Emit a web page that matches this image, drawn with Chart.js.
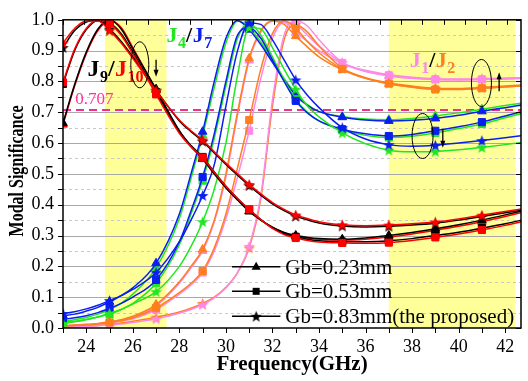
<!DOCTYPE html>
<html>
<head>
<meta charset="utf-8">
<script src="https://cdn.jsdelivr.net/npm/chart.js@4.4.0/dist/chart.umd.min.js"></script>
<style>
  html, body { margin: 0; padding: 0; background: #fff; }
  canvas { display: block; }
</style>
</head>
<body>
<canvas id="chart" width="528" height="381"></canvas>
<script>
// frequency grid (GHz)
const freq = [23, 23.5, 24, 24.5, 25, 25.5, 26, 27, 28, 28.5, 29, 29.5, 30, 30.5, 31, 31.5, 32, 32.5, 33, 33.5, 34, 35, 36, 37, 38, 39, 40, 41, 42, 43];

// modal significance, J1 / J2 (Gb = 0.23, 0.53, 0.83 mm)
const j1Tri  = [0.007,0.009,0.011,0.014,0.019,0.026,0.036, 0.072,0.145,0.195,0.25,0.345,0.49,0.69,0.868, 0.96,0.995,0.992,0.96,0.93,0.9, 0.858,0.833,0.818,0.81,0.806,0.805,0.806,0.808,0.81];
const j1Sq   = [0.005,0.007,0.009,0.012,0.016,0.022,0.03, 0.06,0.11,0.14,0.18,0.25,0.355,0.49,0.64, 0.81,0.94,0.993,0.985,0.95,0.915, 0.86,0.832,0.82,0.812,0.807,0.806,0.807,0.809,0.812];
const j1Star = [0.003,0.004,0.005,0.007,0.01,0.013,0.018, 0.03,0.048,0.06,0.076,0.098,0.13,0.18,0.265, 0.43,0.74,0.95,0.997,0.98,0.935, 0.862,0.836,0.822,0.814,0.809,0.808,0.809,0.811,0.813];
const j2Tri  = [0.008,0.01,0.012,0.015,0.02,0.027,0.038, 0.076,0.15,0.2,0.255,0.35,0.5,0.7,0.875, 0.965,0.997,0.985,0.947,0.912,0.88, 0.838,0.81,0.792,0.782,0.776,0.775,0.778,0.782,0.787];
const j2Sq   = [0.006,0.008,0.01,0.013,0.018,0.024,0.033, 0.065,0.115,0.145,0.185,0.26,0.37,0.52,0.675, 0.84,0.955,0.997,0.972,0.93,0.893, 0.84,0.81,0.793,0.781,0.774,0.774,0.778,0.783,0.788];
const j2Star = [0.004,0.005,0.006,0.008,0.012,0.016,0.022, 0.035,0.052,0.064,0.08,0.1,0.132,0.18,0.26, 0.42,0.72,0.935,0.985,0.96,0.915, 0.843,0.812,0.795,0.785,0.778,0.777,0.78,0.785,0.79];

// J4 / J7
const j4Tri  = [0.022,0.027,0.034,0.045,0.06,0.08,0.11, 0.195,0.355,0.485,0.625,0.78,0.925,0.995,0.975, 0.928,0.868,0.81,0.76,0.725,0.703, 0.686,0.678,0.676,0.68,0.688,0.698,0.71,0.722,0.733];
const j4Sq   = [0.018,0.022,0.028,0.036,0.045,0.06,0.08, 0.145,0.27,0.37,0.478,0.615,0.785,0.94,0.99, 0.95,0.88,0.805,0.742,0.7,0.672, 0.642,0.625,0.618,0.622,0.633,0.647,0.662,0.682,0.702];
const j4Star = [0.015,0.02,0.027,0.036,0.048,0.06,0.078, 0.118,0.2,0.265,0.345,0.45,0.6,0.82,0.975, 0.97,0.91,0.84,0.775,0.72,0.685, 0.633,0.598,0.577,0.572,0.573,0.578,0.586,0.595,0.605];
const j7Tri  = [0.04,0.045,0.055,0.067,0.085,0.105,0.13, 0.21,0.37,0.5,0.637,0.8,0.94,0.998,0.968, 0.92,0.862,0.805,0.755,0.722,0.702, 0.684,0.675,0.672,0.674,0.68,0.69,0.703,0.715,0.727];
const j7Sq   = [0.028,0.033,0.04,0.05,0.064,0.08,0.1, 0.156,0.28,0.38,0.49,0.63,0.8,0.95,0.975, 0.94,0.87,0.8,0.737,0.698,0.672, 0.645,0.63,0.623,0.628,0.64,0.653,0.668,0.688,0.708];
const j7Star = [0.047,0.053,0.062,0.074,0.089,0.105,0.125, 0.18,0.28,0.35,0.43,0.53,0.72,0.9,0.99, 0.985,0.935,0.87,0.805,0.755,0.715, 0.65,0.613,0.595,0.59,0.593,0.6,0.608,0.617,0.627];

// J9 / J10
const j9Tri   = [0.665,0.79,0.895,0.97,1.0,0.97,0.905, 0.775,0.64,0.59,0.55,0.5,0.455,0.415,0.378, 0.35,0.327,0.31,0.3,0.294,0.29, 0.288,0.292,0.3,0.31,0.322,0.335,0.35,0.367,0.385];
const j9Sq    = [0.792,0.9,0.968,0.998,0.99,0.955,0.895, 0.765,0.637,0.592,0.555,0.506,0.46,0.42,0.384, 0.352,0.325,0.306,0.296,0.288,0.283, 0.28,0.28,0.283,0.29,0.3,0.311,0.324,0.338,0.355];
const j9Star  = [0.91,0.965,0.993,0.998,0.97,0.93,0.88, 0.772,0.672,0.637,0.606,0.568,0.531,0.496,0.462, 0.431,0.403,0.381,0.363,0.351,0.341, 0.331,0.328,0.33,0.334,0.34,0.35,0.362,0.374,0.386];
const j10Tri  = [0.66,0.785,0.89,0.965,0.998,0.975,0.91, 0.772,0.638,0.588,0.548,0.5,0.455,0.416,0.38, 0.35,0.326,0.308,0.298,0.292,0.288, 0.285,0.288,0.295,0.305,0.317,0.33,0.345,0.362,0.38];
const j10Sq   = [0.797,0.905,0.972,0.999,0.988,0.95,0.89, 0.758,0.632,0.588,0.553,0.505,0.46,0.42,0.385, 0.352,0.323,0.303,0.292,0.284,0.279, 0.276,0.275,0.277,0.284,0.294,0.305,0.318,0.333,0.35];
const j10Star = [0.925,0.972,0.996,0.996,0.965,0.925,0.875, 0.77,0.675,0.64,0.61,0.572,0.535,0.5,0.466, 0.435,0.407,0.385,0.367,0.355,0.345, 0.335,0.332,0.334,0.338,0.344,0.354,0.366,0.378,0.39];

const legendLabels = ['Gb=0.23mm', 'Gb=0.53mm', 'Gb=0.83mm(the proposed)'];
const bands = [[24.8, 27.45], [37, 42.42]];   // shaded bands (GHz)
const cutoff = 0.707;

const PINK = '#FF88E6', ORANGE = '#FF7F1E', GREEN = '#22E622', BLUE = '#0A1EF0', RED = '#FF0000', BLACK = '#000000';
const SERIF = "'Liberation Serif', 'Times New Roman', serif";

function starImage(color, r) {
  const c = document.createElement('canvas');
  const s = 2 * Math.ceil(r) + 1;
  c.width = s; c.height = s;
  const g = c.getContext('2d');
  g.beginPath();
  for (let i = 0; i < 10; i++) {
    const rr = i % 2 === 0 ? r : r * 0.42;
    const ang = -Math.PI / 2 + i * Math.PI / 5;
    const px = s / 2 + rr * Math.cos(ang), py = s / 2 + rr * Math.sin(ang) + 0.6;
    if (i === 0) g.moveTo(px, py); else g.lineTo(px, py);
  }
  g.closePath();
  g.fillStyle = color;
  g.fill();
  return c;
}

// drawing order: first item ends up on top
const series = [
  { values: j10Star, color: RED, marker: 'star' },
  { values: j10Sq, color: RED, marker: 'rect' },
  { values: j9Tri, color: BLACK, marker: 'triangle' },
  { values: j9Star, color: BLACK, marker: 'star' },
  { values: j9Sq, color: BLACK, marker: 'rect' },
  { values: j10Tri, color: RED, marker: 'triangle' },
  { values: j7Star, color: BLUE, marker: 'star' },
  { values: j4Star, color: GREEN, marker: 'star' },
  { values: j7Sq, color: BLUE, marker: 'rect' },
  { values: j4Sq, color: GREEN, marker: 'rect' },
  { values: j7Tri, color: BLUE, marker: 'triangle' },
  { values: j4Tri, color: GREEN, marker: 'triangle' },
  { values: j2Sq, color: ORANGE, marker: 'rect' },
  { values: j2Tri, color: ORANGE, marker: 'triangle' },
  { values: j1Star, color: PINK, marker: 'star' },
  { values: j2Star, color: ORANGE, marker: 'star' },
  { values: j1Sq, color: PINK, marker: 'rect' },
  { values: j1Tri, color: PINK, marker: 'triangle' }
];

const markerSize = { star: 6, rect: 5, triangle: 5 };
const isMarked = f => Number.isInteger(f) && f % 2 === 1;

const datasets = series.map(s => {
  const style = s.marker === 'star' ? starImage(s.color, 6) : s.marker;
  return {
    data: freq.map((f, i) => ({ x: f, y: s.values[i] })),
    borderColor: s.color,
    backgroundColor: s.color,
    borderWidth: 1.5,
    cubicInterpolationMode: 'monotone',
    pointStyle: style,
    pointBackgroundColor: s.color,
    pointBorderColor: s.color,
    pointBorderWidth: 1,
    pointRadius: ctx => (ctx.raw && isMarked(ctx.raw.x) ? markerSize[s.marker] : 0),
    pointHoverRadius: 0
  };
});

// annotation positions in data units
const modeLabels = [
  { f: 24.05, v: 0.818, size: 24, parts: [['J', BLACK], ['9', BLACK, 1], ['/', BLACK], ['J', RED], ['10', RED, 1]] },
  { f: 27.45, v: 0.927, size: 22, parts: [['J', GREEN], ['4', GREEN, 1], ['/', BLACK], ['J', BLUE], ['7', BLUE, 1]] },
  { f: 37.9, v: 0.847, size: 22, parts: [['J', PINK], ['1', PINK, 1], ['/', BLACK], ['J', ORANGE], ['2', ORANGE, 1]] }
];
const ellipses = [
  { f: 26.3, v: 0.854, rx: 9, ry: 23 },
  { f: 40.98, v: 0.795, rx: 10, ry: 23.5 },
  { f: 38.45, v: 0.623, rx: 10.5, ry: 22.5 }
];
const arrows = [
  { f: 27.0, v0: 0.87, v1: 0.815 },
  { f: 41.74, v0: 0.768, v1: 0.83 },
  { f: 39.32, v0: 0.646, v1: 0.585 }
];
const legendRows = [0.199, 0.119, 0.038];
const legendLine = [30.26, 32.34];
const yTitle = 'Modal Significance';

const decor = {
  id: 'decor',
  beforeDatasetsDraw(chart) {
    const { ctx, chartArea: a, scales: { x, y } } = chart;
    ctx.save();
    ctx.fillStyle = '#FFFF99';
    bands.forEach(([f0, f1]) => {
      const x0 = x.getPixelForValue(f0), x1 = x.getPixelForValue(f1);
      ctx.fillRect(x0, a.top, x1 - x0, a.bottom - a.top);
    });
    for (let i = 1; i < 20; i++) {
      const py = Math.round(y.getPixelForValue(i * 0.05)) + 0.5;
      ctx.beginPath();
      if (i % 2 === 0) {
        ctx.setLineDash([]);
        ctx.strokeStyle = '#A8A8A8';
      } else {
        ctx.setLineDash([3, 3]);
        ctx.strokeStyle = '#C8C8C8';
      }
      ctx.lineWidth = 1;
      ctx.moveTo(a.left, py);
      ctx.lineTo(a.right, py);
      ctx.stroke();
    }
    const cy = y.getPixelForValue(cutoff);
    ctx.setLineDash([8, 5]);
    ctx.strokeStyle = '#F0308A';
    ctx.lineWidth = 2;
    ctx.beginPath();
    ctx.moveTo(a.left, cy);
    ctx.lineTo(a.right, cy);
    ctx.stroke();
    ctx.restore();
  },
  afterDatasetsDraw(chart) {
    const { ctx, chartArea: a, scales: { x, y, x2 } } = chart;
    ctx.save();
    // frame and ticks
    ctx.strokeStyle = '#000';
    ctx.lineWidth = 1.5;
    ctx.strokeRect(a.left, a.top, a.right - a.left, a.bottom - a.top);
    ctx.lineWidth = 1;
    ctx.beginPath();
    for (let f = 23; f <= 42; f++) {
      const px = Math.round(x.getPixelForValue(f)) + 0.5;
      ctx.moveTo(px, a.bottom); ctx.lineTo(px, a.bottom + 5);
    }
    if (x2 && x2.ticks) {
      x2.ticks.forEach(t => {
        const px = Math.round(x2.getPixelForValue(t.value)) + 0.5;
        ctx.moveTo(px, a.top); ctx.lineTo(px, a.top + 5);
      });
    }
    for (let i = 0; i <= 20; i++) {
      const py = Math.round(y.getPixelForValue(i * 0.05)) + 0.5;
      ctx.moveTo(a.left, py); ctx.lineTo(a.left - 5, py);
      if (i % 2 === 0) { ctx.moveTo(a.right, py); ctx.lineTo(a.right - 5, py); }
    }
    ctx.stroke();

    // y axis title, slightly condensed along its length like the original
    ctx.save();
    ctx.translate(18, (a.top + a.bottom) / 2 - 3);
    ctx.rotate(-Math.PI / 2);
    ctx.scale(0.8, 1);
    ctx.font = 'bold 20px ' + SERIF;
    ctx.fillStyle = '#000';
    ctx.textAlign = 'center';
    ctx.textBaseline = 'middle';
    ctx.fillText(yTitle, 0, 0);
    ctx.restore();

    // 0.707 label
    ctx.fillStyle = '#FF3399';
    ctx.font = '17px ' + SERIF;
    ctx.textBaseline = 'alphabetic';
    ctx.textAlign = 'left';
    ctx.fillText(String(cutoff), x.getPixelForValue(23.53), y.getPixelForValue(0.726));

    // mode labels with subscripts
    modeLabels.forEach(lab => {
      let px = x.getPixelForValue(lab.f);
      const py = y.getPixelForValue(lab.v);
      lab.parts.forEach(([t, c, sub]) => {
        ctx.font = 'bold ' + (sub ? 16 : lab.size) + 'px ' + SERIF;
        ctx.fillStyle = c;
        ctx.fillText(t, px, py + (sub ? 6 : 0));
        px += ctx.measureText(t).width + (sub ? 0 : 0.5);
      });
    });

    // ellipses
    ctx.strokeStyle = '#000';
    ctx.lineWidth = 1;
    ellipses.forEach(e => {
      ctx.beginPath();
      ctx.ellipse(x.getPixelForValue(e.f), y.getPixelForValue(e.v), e.rx, e.ry, 0, 0, Math.PI * 2);
      ctx.stroke();
    });

    // arrows
    ctx.fillStyle = '#000';
    arrows.forEach(ar => {
      const px = x.getPixelForValue(ar.f);
      const p0 = y.getPixelForValue(ar.v0), p1 = y.getPixelForValue(ar.v1);
      const dir = p1 > p0 ? 1 : -1;
      ctx.lineWidth = 1.3;
      ctx.beginPath();
      ctx.moveTo(px, p0);
      ctx.lineTo(px, p1 - dir * 5);
      ctx.stroke();
      ctx.beginPath();
      ctx.moveTo(px, p1);
      ctx.lineTo(px - 2.5, p1 - dir * 7);
      ctx.lineTo(px + 2.5, p1 - dir * 7);
      ctx.closePath();
      ctx.fill();
    });

    // legend
    const lx0 = x.getPixelForValue(legendLine[0]), lx1 = x.getPixelForValue(legendLine[1]);
    const lxm = (lx0 + lx1) / 2;
    const blackStar = starImage('#000', 6);
    legendRows.forEach((v, i) => {
      const py = y.getPixelForValue(v);
      ctx.strokeStyle = '#000';
      ctx.lineWidth = 1.5;
      ctx.beginPath();
      ctx.moveTo(lx0, py); ctx.lineTo(lx1, py);
      ctx.stroke();
      ctx.fillStyle = '#000';
      if (i === 0) {
        ctx.beginPath();
        ctx.moveTo(lxm, py - 5);
        ctx.lineTo(lxm + 4.6, py + 3);
        ctx.lineTo(lxm - 4.6, py + 3);
        ctx.closePath();
        ctx.fill();
      } else if (i === 1) {
        ctx.fillRect(lxm - 3.5, py - 3.5, 7, 7);
      } else {
        ctx.drawImage(blackStar, lxm - blackStar.width / 2, py - blackStar.height / 2);
      }
      ctx.font = '21px ' + SERIF;
      ctx.fillText(legendLabels[i], lx1 + 5, py + 7);
    });
    ctx.restore();
  }
};

new Chart(document.getElementById('chart'), {
  type: 'line',
  data: { datasets },
  options: {
    responsive: false,
    animation: false,
    layout: { padding: { top: 14, right: 3, left: 0, bottom: 0 } },
    plugins: { legend: { display: false }, tooltip: { enabled: false } },
    scales: {
      x: {
        type: 'linear', min: 23, max: 42.68,
        grid: { display: false, drawTicks: false },
        border: { display: false },
        ticks: {
          stepSize: 2, includeBounds: false, padding: 8, maxRotation: 0, color: '#000',
          font: { family: SERIF, size: 18 }
        },
        title: {
          display: true, text: 'Frequency(GHz)', color: '#000',
          font: { family: SERIF, size: 21, weight: 'bold' },
          padding: { top: 0, bottom: 4 }
        },
        afterFit: s => { s.height = 53; }
      },
      x2: {
        type: 'linear', position: 'top', display: false, min: 0, max: 21.66,
        ticks: { stepSize: 1, includeBounds: false }
      },
      y: {
        min: 0, max: 1,
        grid: { display: false, drawTicks: false },
        border: { display: false },
        ticks: {
          stepSize: 0.1, padding: 9, color: '#000',
          font: { family: SERIF, size: 18 },
          callback: v => v.toFixed(1)
        },
        title: { display: false },
        afterFit: s => { s.width = 63; }
      }
    }
  },
  plugins: [decor]
});
</script>
</body>
</html>
